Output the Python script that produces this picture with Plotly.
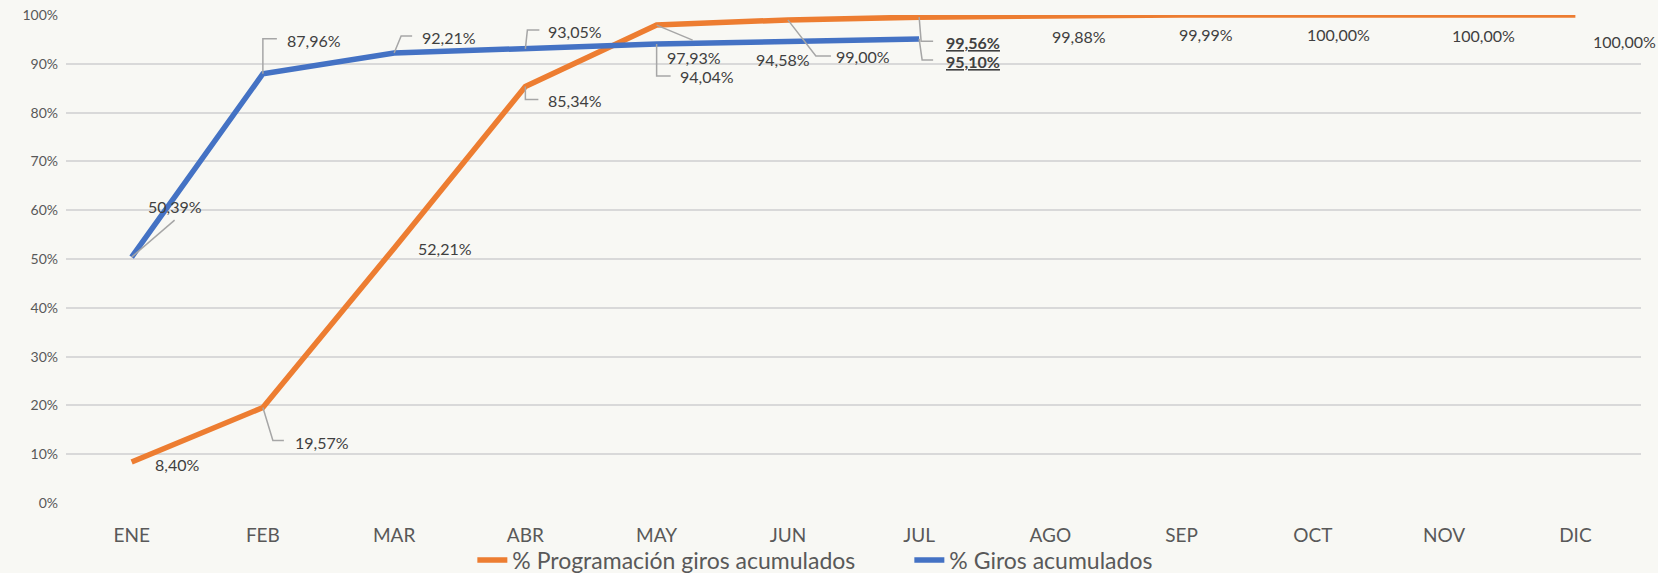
import plotly.graph_objects as go

months = ["ENE", "FEB", "MAR", "ABR", "MAY", "JUN", "JUL", "AGO", "SEP", "OCT", "NOV", "DIC"]
prog_acum = [8.40, 19.57, 52.21, 85.34, 97.93, 99.00, 99.56, 99.88, 99.99, 100.00, 100.00, 100.00]
giros_acum = [50.39, 87.96, 92.21, 93.05, 94.04, 94.58, 95.10]

# data label placement in px from the point (right, down) + leader polyline
prog_lbl = [(45, 2), (59, 35), (51, 0), (50, 14), (37, 32), (75, 37), (54, 25),
            (29, 21), (24, 19), (26, 19), (39, 20), (49, 26)]
prog_lead = [None, [(10, 33), (21, 33)], None, [(0, 13), (13, 13)], [(36, 15)],
             [(28, 36), (43, 36)], [(2, 24), (14, 24)], None, None, None, None, None]
giros_lbl = [(43, -51), (51, -33), (55, -16), (50, -17), (50, 32), (-5, 18), (54, 23)]
giros_lead = [[(43, -37)], [(0, -35), (14, -35)], [(7, -17), (18, -17)], [(2, -19), (14, -19)],
              [(0, 32), (14, 32)], None, [(3, 21), (14, 21)]]

ORANGE = "#ED7D31"
BLUE = "#4472C4"
TXT = "#404040"
BG = "#F8F8F4"
FONT = "Lato, sans-serif"


def fmt(v):
    return f"{v:.2f}".replace(".", ",") + "%"


fig = go.Figure()
fig.add_trace(go.Scatter(x=months, y=[v / 100 for v in prog_acum], mode="lines",
                         name="% Programación giros acumulados",
                         line=dict(color=ORANGE, width=5.5)))
fig.add_trace(go.Scatter(x=months[:len(giros_acum)], y=[v / 100 for v in giros_acum],
                         mode="lines", name="% Giros acumulados",
                         line=dict(color=BLUE, width=5.5)))

jul = months.index("JUL")  # July labels are bold + underlined
for series, lbls, leads in ((prog_acum, prog_lbl, prog_lead), (giros_acum, giros_lbl, giros_lead)):
    for i, v in enumerate(series):
        dx, dy = lbls[i]
        txt = fmt(v)
        if i == jul:
            txt = f"<b><u>{txt}</u></b>"
        fig.add_annotation(x=months[i], y=v / 100, text=txt, showarrow=False,
                           xshift=dx, yshift=-dy,
                           font=dict(family=FONT, size=16, color=TXT))
        if leads[i]:
            path = "M0,0 " + " ".join(f"L{px},{-py}" for px, py in leads[i])
            fig.add_shape(type="path", path=path, xref="x", yref="y",
                          xsizemode="pixel", ysizemode="pixel", xanchor=i, yanchor=v / 100,
                          line=dict(color="#A6A6A6", width=1.5), layer="above")

fig.update_layout(
    paper_bgcolor=BG, plot_bgcolor=BG,
    margin=dict(l=66, r=17, t=15, b=70, autoexpand=False),
    font=dict(family=FONT, color="#595959"),
    xaxis=dict(showgrid=False, showline=False, zeroline=False, automargin=False,
               ticks="outside", ticklen=15, tickcolor="rgba(0,0,0,0)",
               tickfont=dict(size=19), range=[-0.5, 11.5], fixedrange=True),
    yaxis=dict(range=[0, 1], dtick=0.1, tickformat=".0%", gridcolor="#D9D9D9",
               gridwidth=1.5, zeroline=False, showline=False, automargin=False,
               ticklabelstandoff=7, tickfont=dict(size=14), fixedrange=True),
    legend=dict(orientation="h", x=0.258, xanchor="left", y=-0.117, yanchor="middle",
                entrywidth=392, entrywidthmode="pixels",
                font=dict(size=23, color="#595959"), bgcolor="rgba(0,0,0,0)"),
    showlegend=True,
)

fig.write_html(
    "out.html",
    config={"displayModeBar": False},
    post_script=("document.body.style.margin='0';"
                 f"document.body.style.background='{BG}';"
                 "Plotly.Plots.resize(document.getElementById('{plot_id}'));"),
)
